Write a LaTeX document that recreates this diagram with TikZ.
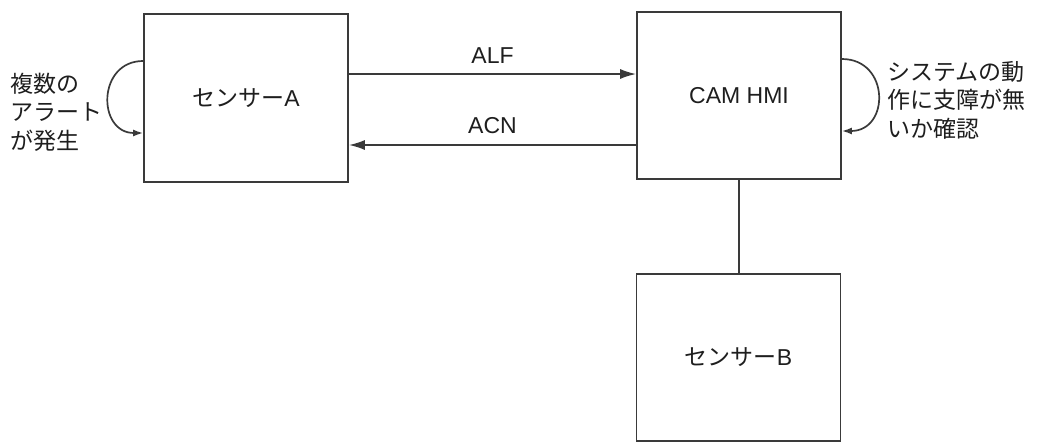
\documentclass[tikz,border=0pt]{standalone}
\usepackage{fontspec}
\setmainfont{Liberation Sans}
\newfontfamily\cjk{Noto Sans CJK JP}
\usetikzlibrary{arrows.meta}
\definecolor{ln}{HTML}{3A3A3A}
\definecolor{tx}{HTML}{1E1E1E}
\tikzset{
  box/.style={draw=ln, line width=1.7pt, minimum width=204pt, minimum height=168pt, inner sep=0pt, text=tx, font=\fontsize{23}{28}\selectfont},
  arr/.style={draw=ln, line width=1.7pt, -{Latex[length=16pt,width=10pt]}},
  loop/.style={draw=ln, line width=1.7pt, -{Latex[length=10pt,width=7pt]}},
  lbl/.style={text=tx, font=\fontsize{23}{28}\selectfont, inner sep=0pt},
  side/.style={text=tx, font=\cjk\fontsize{23}{28.5}\selectfont, align=left, inner sep=0pt, anchor=west}
}
\begin{document}
\begin{tikzpicture}[x=1pt,y=-1pt]
\useasboundingbox (0,0) rectangle (1046,442);
\node[box] (A) at (246,98) {{\cjk センサー}A};
\node[box, minimum height=167pt] (C) at (739,95.5) {CAM HMI};
\node[box, minimum height=167pt] (B) at (738.5,357.5) {{\cjk センサー}B};
\draw[arr] (A.east |- 0,74) -- node[lbl, above=10pt] (alf) {ALF} (C.west |- 0,74);
\draw[arr] (C.west |- 0,145) -- node[lbl, above=10pt] (acn) {ACN} (A.east |- 0,145);
\draw[draw=ln, line width=1.7pt] (C.south) -- (C.south |- B.north);
\draw[loop] (A.west |- 0,61) .. controls (97,61) and (97,133) .. (A.west |- 0,133);
\draw[loop] (C.east |- 0,59) .. controls (890,59) and (890,131) .. (C.east |- 0,131);
\node[side] (ltxt) at (10,112) {複数の\\アラート\\が発生};
\node[side] (rtxt) at (887,100) {システムの動\\作に支障が無\\いか確認};
\end{tikzpicture}
\end{document}
